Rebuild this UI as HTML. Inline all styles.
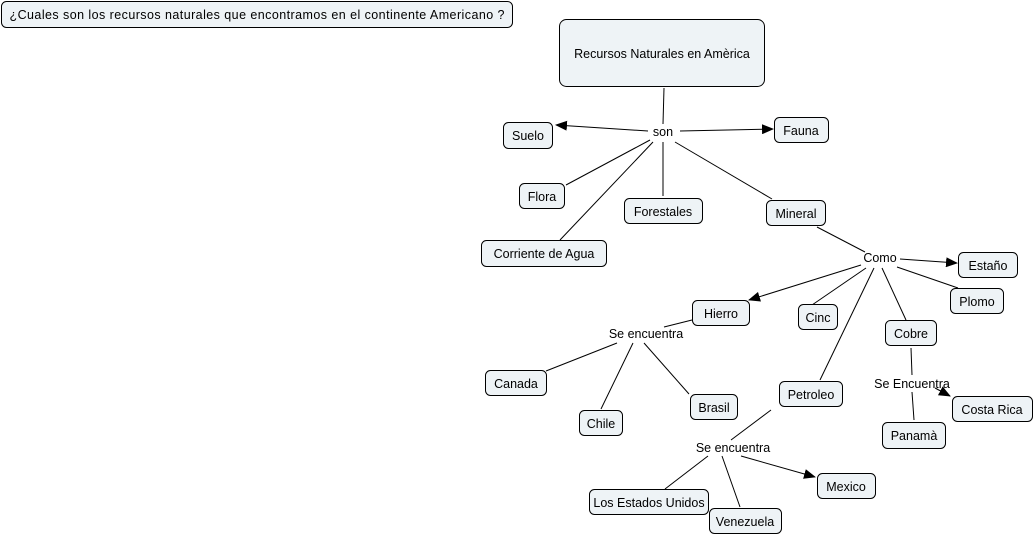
<!DOCTYPE html>
<html><head><meta charset="utf-8"><style>
body{margin:0;background:#fff;width:1035px;height:535px;overflow:hidden}
svg text{font-family:"Liberation Sans","DejaVu Sans",sans-serif;font-size:12.5px;fill:#000}
rect{fill:#eef3f6;stroke:#000;stroke-width:1}
line{stroke:#000;stroke-width:1}
</style></head><body>
<svg width="1035" height="535" viewBox="0 0 1035 535" xmlns="http://www.w3.org/2000/svg">
<defs><marker id="a" markerWidth="12" markerHeight="10" refX="11" refY="5" orient="auto" markerUnits="userSpaceOnUse"><path d="M0,0 L12,5 L0,10 z" fill="#000"/></marker></defs>
<g>
<line x1="664" y1="88" x2="663" y2="124"/>
<line x1="648" y1="131" x2="556" y2="125" marker-end="url(#a)"/>
<line x1="680" y1="131" x2="773" y2="129" marker-end="url(#a)"/>
<line x1="650" y1="140" x2="566" y2="185"/>
<line x1="653" y1="142" x2="560" y2="240"/>
<line x1="663" y1="142" x2="663" y2="196"/>
<line x1="675" y1="142" x2="772" y2="199"/>
<line x1="817" y1="227" x2="865" y2="252"/>
<line x1="900" y1="259" x2="957" y2="263" marker-end="url(#a)"/>
<line x1="897" y1="267" x2="958" y2="288"/>
<line x1="861" y1="265" x2="749" y2="300" marker-end="url(#a)"/>
<line x1="866" y1="268" x2="812" y2="305"/>
<line x1="874" y1="268" x2="820" y2="380"/>
<line x1="882" y1="268" x2="906" y2="320"/>
<line x1="692" y1="320" x2="664" y2="327"/>
<line x1="617" y1="343" x2="546" y2="371"/>
<line x1="633" y1="343" x2="601" y2="409"/>
<line x1="644" y1="343" x2="689" y2="394"/>
<line x1="911" y1="348" x2="912" y2="375"/>
<line x1="912" y1="392" x2="914" y2="420"/>
<line x1="935" y1="388" x2="950" y2="396" marker-end="url(#a)"/>
<line x1="771" y1="410" x2="731" y2="440"/>
<line x1="708" y1="456" x2="665" y2="489"/>
<line x1="722" y1="456" x2="740" y2="507"/>
<line x1="741" y1="456" x2="815" y2="477" marker-end="url(#a)"/>
</g>
<rect x="1.5" y="1.5" width="511" height="26" rx="5"/>
<text x="257" y="19" text-anchor="middle" textLength="495">¿Cuales son los recursos naturales que encontramos en el continente Americano ?</text>
<rect x="559.5" y="19.5" width="205" height="67" rx="7"/>
<text x="662" y="58" text-anchor="middle">Recursos Naturales en Amèrica</text>
<g text-anchor="middle">
<rect x="503.5" y="122.5" width="49" height="26" rx="5"/><text x="528" y="140">Suelo</text>
<rect x="774.5" y="117.5" width="54" height="25" rx="5"/><text x="801" y="135">Fauna</text>
<rect x="519.5" y="183.5" width="45" height="25" rx="5"/><text x="542" y="201">Flora</text>
<rect x="624.5" y="198.5" width="78" height="25" rx="5"/><text x="663" y="216">Forestales</text>
<rect x="766.5" y="200.5" width="59" height="25" rx="5"/><text x="796" y="218">Mineral</text>
<rect x="481.5" y="240.5" width="125" height="26" rx="5"/><text x="544" y="258">Corriente de Agua</text>
<rect x="958.5" y="252.5" width="59" height="25" rx="5"/><text x="988" y="270">Estaño</text>
<rect x="950.5" y="288.5" width="53" height="25" rx="5"/><text x="977" y="306">Plomo</text>
<rect x="692.5" y="300.5" width="57" height="25" rx="5"/><text x="721" y="318">Hierro</text>
<rect x="798.5" y="304.5" width="39" height="25" rx="5"/><text x="818" y="322">Cinc</text>
<rect x="885.5" y="320.5" width="51" height="25" rx="5"/><text x="911" y="338">Cobre</text>
<rect x="485.5" y="370.5" width="61" height="25" rx="5"/><text x="516" y="388">Canada</text>
<rect x="690.5" y="394.5" width="47" height="25" rx="5"/><text x="714" y="412">Brasil</text>
<rect x="779.5" y="381.5" width="63" height="25" rx="5"/><text x="811" y="399">Petroleo</text>
<rect x="579.5" y="410.5" width="43" height="25" rx="5"/><text x="601" y="428">Chile</text>
<rect x="952.5" y="396.5" width="80" height="25" rx="5"/><text x="992" y="414">Costa Rica</text>
<rect x="882.5" y="422.5" width="63" height="26" rx="5"/><text x="914" y="440">Panamà</text>
<rect x="817.5" y="473.5" width="58" height="25" rx="5"/><text x="846" y="491">Mexico</text>
<rect x="589.5" y="489.5" width="119" height="25" rx="5"/><text x="649" y="507">Los Estados Unidos</text>
<rect x="709.5" y="508.5" width="72" height="25" rx="5"/><text x="745" y="526">Venezuela</text>
<text x="663" y="136">son</text>
<text x="880" y="262">Como</text>
<text x="646" y="338">Se encuentra</text>
<text x="912" y="388">Se Encuentra</text>
<text x="733" y="452">Se encuentra</text>
</g>
</svg>
</body></html>
